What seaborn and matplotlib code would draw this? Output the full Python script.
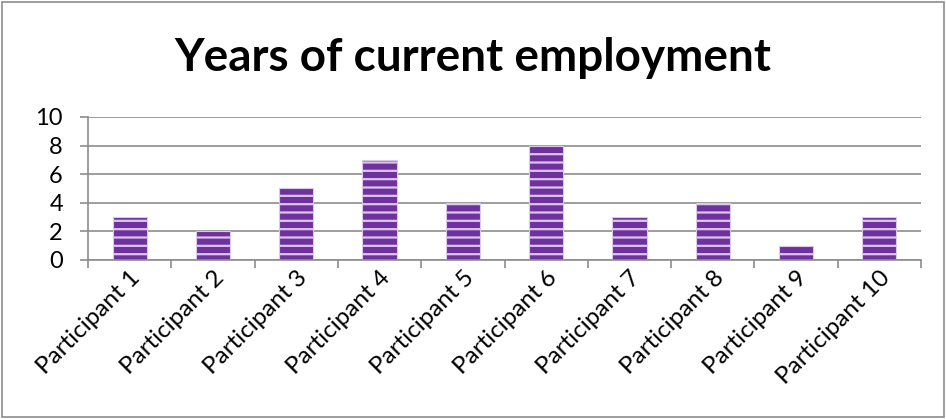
import matplotlib
matplotlib.use("Agg")
import matplotlib.pyplot as plt
import seaborn as sns
import pandas as pd
from matplotlib.patches import Rectangle

participants = ["Participant 1", "Participant 2", "Participant 3", "Participant 4",
                "Participant 5", "Participant 6", "Participant 7", "Participant 8",
                "Participant 9", "Participant 10"]
years = [3, 2, 5, 7, 4, 8, 3, 4, 1, 3]
y_ticks = [0, 2, 4, 6, 8, 10]

sns.set_theme(style="white")
plt.rcParams["font.family"] = ["Lato", "DejaVu Sans"]
plt.rcParams["hatch.linewidth"] = 1.6
plt.rcParams["hatch.color"] = "white"

df = pd.DataFrame({"participant": participants, "years": years})

fig = plt.figure(figsize=(9.46, 4.19), dpi=100)
ax = fig.add_axes([0.093, 0.3795, 0.8806, 0.3413])

sns.barplot(data=df, x="participant", y="years", color="#7030A0",
            saturation=1, width=0.41, ax=ax, edgecolor="#d9c8e6", linewidth=0.8)
for p in ax.patches:
    p.set_hatch("--")

ax.set_ylim(0, 10)
ax.set_xlim(-0.5, len(participants) - 0.5)
ax.set_yticks(y_ticks)
ax.set_yticklabels([str(t) for t in y_ticks], fontsize=17, color="black")
ax.yaxis.grid(True, color="#8c8c8c", linewidth=1.2)
ax.set_axisbelow(True)
ax.set_xlabel("")
ax.set_ylabel("")

# category tick marks sit on the boundaries between bars
ax.set_xticks([i - 0.5 for i in range(len(participants) + 1)], minor=False)
ax.set_xticklabels([])
ax.set_xticks(range(len(participants)), minor=True)
ax.set_xticklabels(participants, minor=True, rotation=45, ha="right",
                   rotation_mode="anchor", fontsize=17.5, color="black")
ax.tick_params(axis="x", which="major", length=6, width=1.2, color="#8c8c8c",
               direction="out", bottom=True)
ax.tick_params(axis="x", which="minor", length=0, pad=5)
ax.tick_params(axis="y", length=6, width=1.2, color="#8c8c8c", direction="out",
               left=True, pad=12)

for side in ["top", "right"]:
    ax.spines[side].set_visible(False)
for side in ["left", "bottom"]:
    ax.spines[side].set_color("#8c8c8c")
    ax.spines[side].set_linewidth(1.2)

fig.text(0.5, 0.862, "Years of current employment", ha="center", va="center",
         fontsize=33, fontweight="bold", color="black")

fig.patches.append(Rectangle((0.002, 0.004), 0.996, 0.992, transform=fig.transFigure,
                             fill=False, edgecolor="#8c8c8c", linewidth=1.2))

fig.savefig("out.png", dpi=100)
